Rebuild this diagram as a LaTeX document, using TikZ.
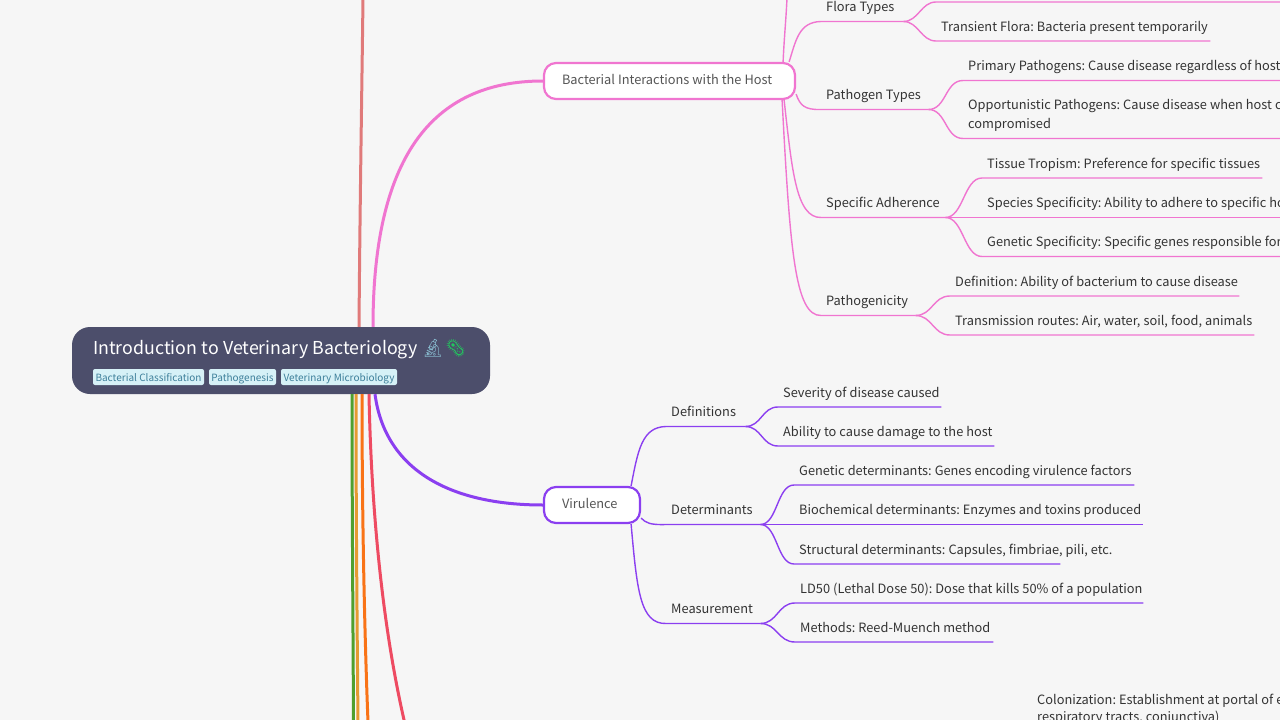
\documentclass[tikz,border=0pt]{standalone}
\usepackage{fontspec}
\usepackage{xcolor}
\usepackage{tikz}
\setmainfont[WordSpace=1.05]{Noto Sans CJK SC}
\newfontfamily\emojifont{Noto Emoji}
\frenchspacing
\definecolor{bg}{HTML}{F6F6F6}
\definecolor{rootbg}{HTML}{4C4E6B}
\definecolor{tagbg}{HTML}{D6F1F7}
\definecolor{tagink}{HTML}{3D7F9A}
\definecolor{ink}{HTML}{333333}
\definecolor{muted}{HTML}{555555}
\definecolor{salmon}{HTML}{E07A7A}
\definecolor{pink}{HTML}{F075D0}
\definecolor{violet}{HTML}{8B3FF0}
\definecolor{leafgreen}{HTML}{4F9F2F}
\definecolor{amber}{HTML}{E59A32}
\definecolor{tangerine}{HTML}{F97316}
\definecolor{rose}{HTML}{EE4B62}
\definecolor{scope}{HTML}{86B8CC}
\definecolor{germ}{HTML}{22C55E}
\tikzset{
  rootbox/.style={fill=rootbg, rounded corners=18pt, minimum width=418pt, minimum height=67pt, inner sep=0pt},
  title/.style={text=white, anchor=west, inner sep=0pt, font=\fontsize{17.8}{22}\selectfont},
  tag/.style={fill=tagbg, text=tagink, rounded corners=2pt, inner sep=0pt, minimum height=16pt, text height=10pt, text depth=0.5pt, font=\fontsize{10}{13}\selectfont},
  topic/.style={fill=white, rounded corners=12pt, line width=2.2pt, minimum height=36pt, inner xsep=18pt, inner ysep=0pt, text height=10pt, text depth=3pt, align=left, text=muted, font=\fontsize{12.8}{19}\selectfont, execute at begin node={\spaceskip=0pt\relax}},
  item/.style={anchor=south west, align=left, text=ink, inner xsep=5pt, inner ysep=3.8pt, font=\fontsize{12.8}{19}\selectfont, execute at begin node={\strut\spaceskip=0pt\rightskip=-90pt plus 1fil\relax}},
  main/.style={line width=3pt},
  link/.style={line width=1.4pt},
}
\begin{document}
\begin{tikzpicture}[x=1pt,y=-1pt]
  \useasboundingbox[fill=bg] (0,0) rectangle (1280,720);
  \clip (0,0) rectangle (1280,720);

  \node[rootbox] (root) at (281,360.5) {};
  \node[title] (rootname) at (93,349) {Introduction to Veterinary Bacteriology {\emojifont\color{scope}🔬}{\emojifont\color{germ}🦠}};
  \node[tag, minimum width=111pt] (tagclass) at (148.5,377) {Bacterial Classification};
  \node[tag, minimum width=67pt] (tagpath) at (242.5,377) {Pathogenesis};
  \node[tag, minimum width=116pt] (tagmicro) at (339,377) {Veterinary Microbiology};

  \node[topic, draw=pink, text width=215pt] (bact) at (669.5,81) {Bacterial Interactions with the Host};
  \node[topic, draw=violet, text width=60pt] (vir) at (592,505) {Virulence};

  \coordinate (offsalmon) at (363,-2);
  \coordinate (offgreen) at (353.5,722);
  \coordinate (offamber) at (358,722);
  \coordinate (offorange) at (368,722);
  \coordinate (offrose) at (404.5,722);
  \coordinate (offbact) at (787,-2);
  \coordinate (floratop) at (936,2);
  \coordinate (floraend) at (1285,2);

  \draw[main, salmon] ([xshift=78pt]root.north) .. controls (360,200) and (362,80) .. (offsalmon);
  \draw[main, pink] ([xshift=92pt]root.north) .. controls (373,160) and (430,81) .. (bact.west);
  \draw[main, violet] ([xshift=94pt]root.south) .. controls (385,470) and (450,505) .. (vir.west);
  \draw[main, leafgreen] ([xshift=71pt]root.south) .. controls (352,500) and (353,620) .. (offgreen);
  \draw[main, amber] ([xshift=75pt]root.south) .. controls (356,500) and (357,620) .. (offamber);
  \draw[main, tangerine] ([xshift=81pt]root.south) .. controls (362,500) and (364,620) .. (offorange);
  \draw[main, rose] ([xshift=88pt]root.south) .. controls (371,500) and (381,620) .. (offrose);

  \node[item, text width=72pt] (flora) at (821,21.5) {Flora Types};
  \node[item, text width=264pt] (transient) at (936,41) {Transient Flora: Bacteria present temporarily};
  \node[item, text width=97pt] (pathogen) at (821,109.5) {Pathogen Types};
  \node[item, text width=340pt] (primary) at (963,80.5) {Primary Pathogens: Cause disease regardless of host};
  \node[item, text width=340pt] (opport) at (963,138.5) {Opportunistic Pathogens: Cause disease when host c\\compromised\strut};
  \node[item, text width=114pt] (adher) at (821,217.5) {Specific Adherence};
  \node[item, text width=270pt] (tissue) at (982,178) {Tissue Tropism: Preference for specific tissues};
  \node[item, text width=340pt] (species) at (982,217.5) {Species Specificity: Ability to adhere to specific ho};
  \node[item, text width=340pt] (genetic) at (982,256.5) {Genetic Specificity: Specific genes responsible for};
  \node[item, text width=84pt] (pathogenic) at (821,315.5) {Pathogenicity};
  \node[item, text width=279pt] (definition) at (950,296) {Definition: Ability of bacterium to cause disease};
  \node[item, text width=294pt] (routes) at (950,335) {Transmission routes: Air, water, soil, food, animals};

  \node[item, text width=69pt] (defs) at (666,426.5) {Definitions};
  \node[item, text width=153pt] (severity) at (778,407) {Severity of disease caused};
  \node[item, text width=206pt] (ability) at (778,446) {Ability to cause damage to the host};
  \node[item, text width=330pt] (gendet) at (794,485) {Genetic determinants: Genes encoding virulence factors};
  \node[item, text width=84pt] (determ) at (666,524.5) {Determinants};
  \node[item, text width=339pt] (biodet) at (794,524.5) {Biochemical determinants: Enzymes and toxins produced};
  \node[item, text width=256pt] (structdet) at (794,564) {Structural determinants: Capsules, fimbriae, pili, etc.};
  \node[item, text width=84pt] (measure) at (666,623.5) {Measurement};
  \node[item, text width=338pt] (lethal) at (795,603) {LD50 (Lethal Dose 50): Dose that kills 50\% of a population};
  \node[item, text width=188pt] (methods) at (795,642) {Methods: Reed-Muench method};

  \node[item] (colon) at (1032,714) {Colonization: Establishment at portal of e};
  \node[item] (tracts) at (1032,731) {respiratory tracts, conjunctiva)};

  \begin{scope}[pink, link]
    \draw ([xshift=-13pt]bact.north east) .. controls (784,40) and (786,20) .. (offbact);
    \draw ([xshift=-7pt]bact.north east) .. controls (796,40) and (799,22) .. (flora.south west) -- (flora.south east);
    \draw (flora.south east) .. controls +(15,0) and +(-15,0) .. (floratop) -- (floraend);
    \draw (flora.south east) .. controls +(15,0) and +(-15,0) .. (transient.south west) -- (transient.south east);
    \draw ([yshift=6pt]bact.south east) .. controls (800,105) and (804,110) .. (pathogen.south west) -- (pathogen.south east);
    \draw (pathogen.south east) .. controls +(18,0) and +(-18,0) .. (primary.south west) -- (primary.south east);
    \draw (pathogen.south east) .. controls +(18,0) and +(-18,0) .. (opport.south west) -- (opport.south east);
    \draw ([xshift=-12pt]bact.south east) .. controls (792,170) and (796,218) .. (adher.south west) -- (adher.south east);
    \draw (adher.south east) .. controls +(18,0) and +(-18,0) .. (tissue.south west) -- (tissue.south east);
    \draw (adher.south east) -- (species.south west) -- (species.south east);
    \draw (adher.south east) .. controls +(18,0) and +(-18,0) .. (genetic.south west) -- (genetic.south east);
    \draw ([xshift=-14pt]bact.south east) .. controls (790,250) and (795,316) .. (pathogenic.south west) -- (pathogenic.south east);
    \draw (pathogenic.south east) .. controls +(17,0) and +(-17,0) .. (definition.south west) -- (definition.south east);
    \draw (pathogenic.south east) .. controls +(17,0) and +(-17,0) .. (routes.south west) -- (routes.south east);
  \end{scope}

  \begin{scope}[violet, link]
    \draw ([xshift=-10pt]vir.north east) .. controls (638,450) and (642,427) .. (defs.south west) -- (defs.south east);
    \draw (defs.south east) .. controls +(16,0) and +(-16,0) .. (severity.south west) -- (severity.south east);
    \draw (defs.south east) .. controls +(16,0) and +(-16,0) .. (ability.south west) -- (ability.south east);
    \draw ([yshift=6pt]vir.south east) .. controls (646,523) and (650,525) .. (determ.south west) -- (determ.south east);
    \draw (determ.south east) .. controls +(17,0) and +(-17,0) .. (gendet.south west) -- (gendet.south east);
    \draw (determ.south east) -- (biodet.south west) -- (biodet.south east);
    \draw (determ.south east) .. controls +(17,0) and +(-17,0) .. (structdet.south west) -- (structdet.south east);
    \draw ([xshift=-10pt]vir.south east) .. controls (637,590) and (640,624) .. (measure.south west) -- (measure.south east);
    \draw (measure.south east) .. controls +(17,0) and +(-17,0) .. (lethal.south west) -- (lethal.south east);
    \draw (measure.south east) .. controls +(17,0) and +(-17,0) .. (methods.south west) -- (methods.south east);
  \end{scope}
\end{tikzpicture}
\end{document}
